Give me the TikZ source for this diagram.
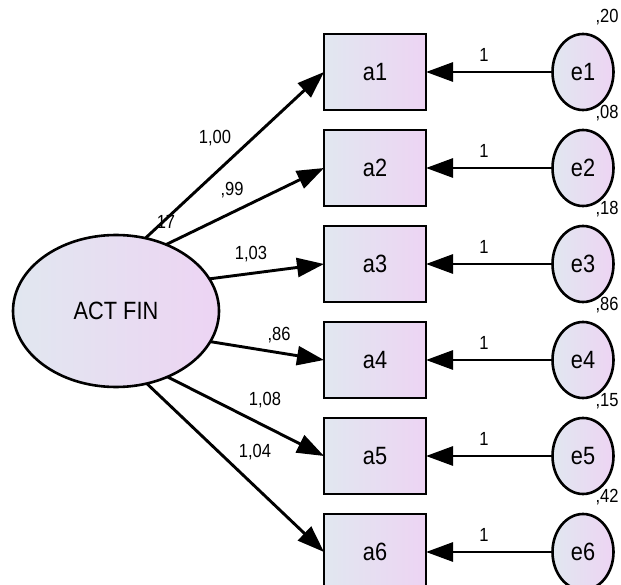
\documentclass[tikz,border=0pt]{standalone}
\usepackage{fontspec}
\setmainfont[FakeStretch=0.87]{Liberation Sans}
\usetikzlibrary{shapes.geometric,arrows.meta}
\definecolor{gradA}{RGB}{225,231,240}
\definecolor{gradB}{RGB}{237,212,243}
\tikzset{
  shade/.style={left color=gradA, right color=gradB},
  obsbox/.style={draw, line width=2.8pt, shade, minimum width=102pt, minimum height=76pt, inner sep=0pt, outer sep=0pt, font=\fontsize{25}{28}\selectfont},
  errcirc/.style={ellipse, draw, line width=2.6pt, shade, minimum width=61pt, minimum height=76pt, inner sep=0pt, outer sep=0pt, font=\fontsize{25}{28}\selectfont},
  latent/.style={ellipse, draw, line width=2.6pt, shade, minimum width=206pt, minimum height=152pt, inner sep=0pt, outer sep=0pt, font=\fontsize{25}{28}\selectfont},
  conn/.style={line width=2.9pt, -{Triangle[length=27pt,width=19pt]}},
  lbl/.style={inner sep=0pt, font=\fontsize{19}{21}\selectfont},
}
\begin{document}
\begin{tikzpicture}[x=1pt,y=-1pt]
\useasboundingbox (0,0) rectangle (621,585);
\node[latent] (act) at (116,311) {ACT FIN};
\foreach \i/\v in {1/{,20},2/{,08},3/{,18},4/{,86},5/{,15},6/{,42}}{
  \pgfmathsetmacro{\yy}{72+96*(\i-1)}
  \node[obsbox] (a\i) at (375,\yy) {a\i};
  \node[errcirc] (e\i) at (583,\yy) {e\i};
  \node[lbl] (v\i) at (607,\yy-55) {\v};
  \node[lbl] (o\i) at (484,\yy-17) {1};
  \draw[conn] (e\i.west) -- (a\i.east);
}
\node[lbl] (l1) at (215,138) {1,00};
\node[lbl] (l2) at (232,190) {,99};
\node[lbl] (l3) at (251,254) {1,03};
\node[lbl] (l4) at (279,335) {,86};
\node[lbl] (l5) at (265,400) {1,08};
\node[lbl] (l6) at (255,452) {1,04};
\node[lbl] (vact) at (166,222) {17};
\draw[conn] (act.68) -- (a1.west);
\draw[conn] (act.53) -- (a2.west);
\draw[conn] (act.19) -- (a3.west);
\draw[conn] (act.-18) -- (a4.west);
\draw[conn] (act.-52) -- (a5.west);
\draw[conn] (act.-67) -- (a6.west);
\end{tikzpicture}
\end{document}
